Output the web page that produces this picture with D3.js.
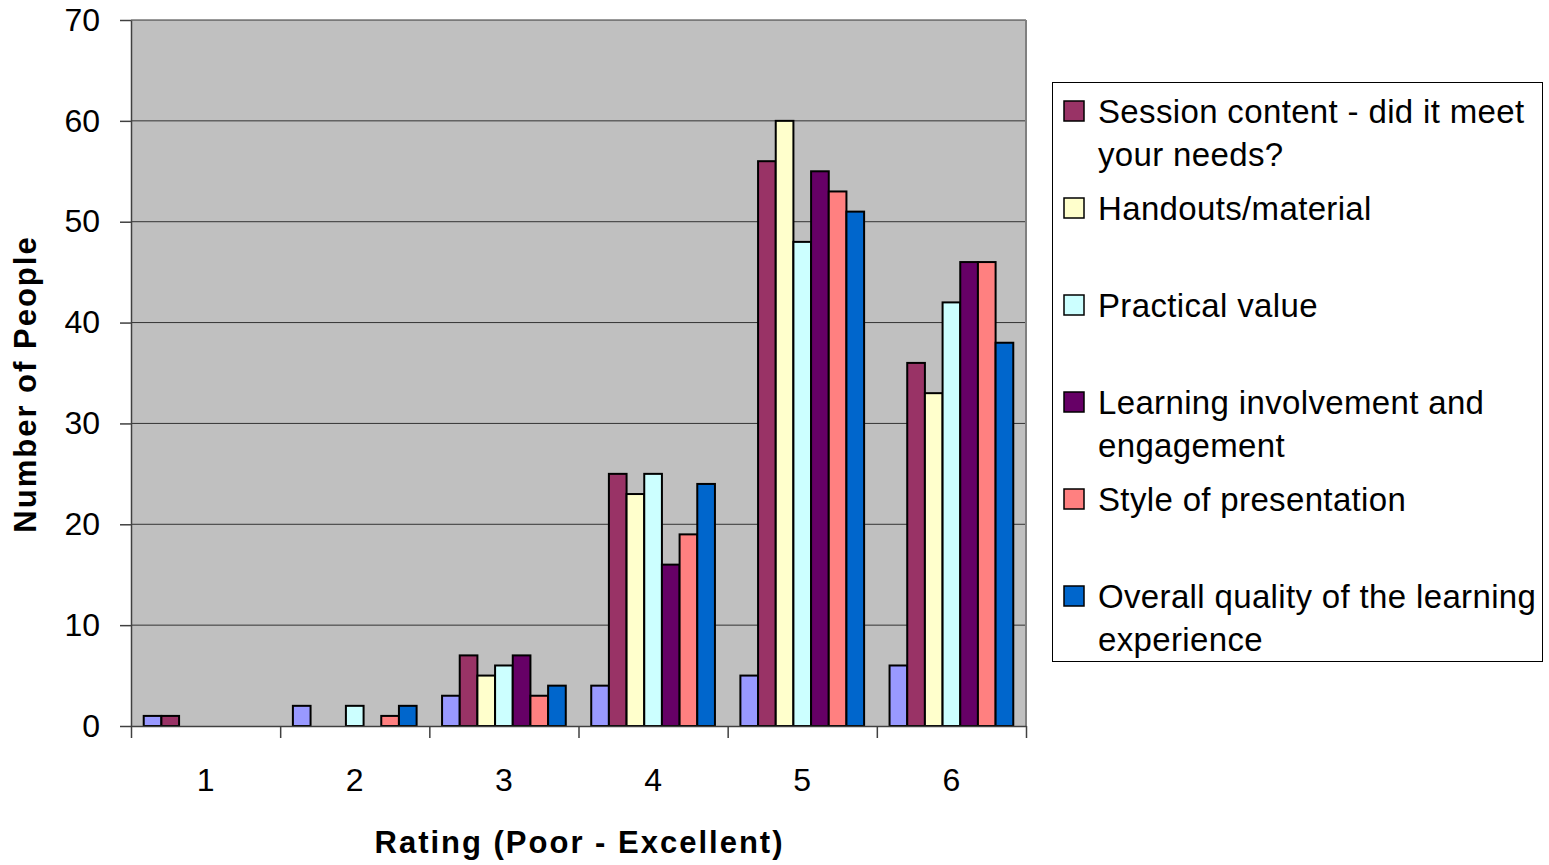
<!DOCTYPE html>
<html>
<head>
<meta charset="utf-8">
<script src="https://cdn.jsdelivr.net/npm/d3@7/dist/d3.min.js"></script>
<style>
  html, body { margin: 0; padding: 0; background: #fff; }
  svg { display: block; font-family: "Liberation Sans", Arial, sans-serif; }
</style>
</head>
<body>
<svg id="chart" width="1549" height="865"></svg>
<script>
// Ratings on the x axis
const categories = ["1", "2", "3", "4", "5", "6"];

// Series (first one is the rating itself, plotted but not listed in the legend)
const seriesNames = [
  "Rating",
  "Session content - did it meet your needs?",
  "Handouts/material",
  "Practical value",
  "Learning involvement and engagement",
  "Style of presentation",
  "Overall quality of the learning experience"
];
const ratingValues      = [1, 2, 3, 4, 5, 6];
const sessionContent    = [1, 0, 7, 25, 56, 36];
const handouts          = [0, 0, 5, 23, 60, 33];
const practicalValue    = [0, 2, 6, 25, 48, 42];
const learningInvolve   = [0, 0, 7, 16, 55, 46];
const stylePresentation = [0, 1, 3, 19, 53, 46];
const overallQuality    = [0, 2, 4, 24, 51, 38];

const seriesColors = ["#9999FF", "#993366", "#FFFFCC", "#CCFFFF", "#660066", "#FF8080", "#0066CC"];
const yTicks = [0, 10, 20, 30, 40, 50, 60, 70];

const seriesValues = [ratingValues, sessionContent, handouts, practicalValue,
                      learningInvolve, stylePresentation, overallQuality];

const svg = d3.select("#chart");
const plot = { left: 131, right: 1026, top: 20, bottom: 726 };

const x0 = d3.scaleBand().domain(categories).range([plot.left, plot.right]).padding(0);
const x1 = d3.scaleBand().domain(d3.range(seriesNames.length))
  .range([0, x0.bandwidth()]).paddingInner(0).paddingOuter(0.72);
const y = d3.scaleLinear().domain([0, 70]).range([plot.bottom, plot.top]);

// plot area background
svg.append("rect")
  .attr("x", plot.left).attr("y", plot.top)
  .attr("width", plot.right - plot.left).attr("height", plot.bottom - plot.top)
  .attr("fill", "#C0C0C0");

// horizontal gridlines
svg.append("g").selectAll("line").data(yTicks.filter(d => d > 0)).join("line")
  .attr("x1", plot.left).attr("x2", plot.right)
  .attr("y1", d => y(d)).attr("y2", d => y(d))
  .attr("stroke", "#333").attr("stroke-width", 1);

// right edge of plot area
svg.append("line")
  .attr("x1", plot.right).attr("x2", plot.right)
  .attr("y1", plot.top).attr("y2", plot.bottom)
  .attr("stroke", "#808080").attr("stroke-width", 2);

// bars
const groups = svg.append("g").selectAll("g").data(categories).join("g")
  .attr("transform", c => `translate(${x0(c)},0)`);
groups.selectAll("rect")
  .data((c, ci) => seriesValues.map((vals, si) => ({ si, v: vals[ci] })))
  .join("rect")
  .filter(d => d.v > 0)
  .attr("x", d => x1(d.si))
  .attr("y", d => y(d.v))
  .attr("width", x1.bandwidth())
  .attr("height", d => y(0) - y(d.v))
  .attr("fill", d => seriesColors[d.si])
  .attr("stroke", "#000").attr("stroke-width", 2);

// y axis
const yAxis = svg.append("g")
  .attr("transform", `translate(${plot.left},0)`)
  .call(d3.axisLeft(y).tickValues(yTicks).tickSize(11).tickPadding(20).tickSizeOuter(0));
yAxis.select(".domain").attr("stroke", "#404040").attr("stroke-width", 1.5);
yAxis.selectAll(".tick line").attr("stroke", "#404040").attr("stroke-width", 1.5);
yAxis.selectAll("text").attr("font-size", 32).attr("fill", "#000")
  .attr("font-family", "Liberation Sans, Arial, sans-serif");

// x axis: tick marks at category boundaries, labels centred in each band
const xEdges = d3.scaleLinear().domain([0, categories.length]).range([plot.left, plot.right]);
const xTickAxis = svg.append("g")
  .attr("transform", `translate(0,${plot.bottom})`)
  .call(d3.axisBottom(xEdges).tickValues(d3.range(categories.length + 1)).tickSize(12).tickFormat("").tickSizeOuter(0));
xTickAxis.select(".domain").attr("stroke", "#404040").attr("stroke-width", 1.5);
xTickAxis.selectAll(".tick line").attr("stroke", "#404040").attr("stroke-width", 1.5);

const xLabelAxis = svg.append("g")
  .attr("transform", `translate(0,${plot.bottom})`)
  .call(d3.axisBottom(x0).tickSize(0).tickPadding(42));
xLabelAxis.select(".domain").remove();
xLabelAxis.selectAll("text").attr("font-size", 32).attr("fill", "#000")
  .attr("font-family", "Liberation Sans, Arial, sans-serif");

// axis titles
svg.append("text")
  .attr("x", (plot.left + plot.right) / 2 + 1).attr("y", 853)
  .attr("text-anchor", "middle").attr("font-weight", "bold").attr("font-size", 31)
  .attr("letter-spacing", 2)
  .text("Rating (Poor - Excellent)");
svg.append("text")
  .attr("transform", "translate(36,384) rotate(-90)")
  .attr("text-anchor", "middle").attr("font-weight", "bold").attr("font-size", 31)
  .attr("letter-spacing", 2)
  .text("Number of People");

// legend
const legend = svg.append("g");
legend.append("rect")
  .attr("x", 1052.5).attr("y", 82.5).attr("width", 490).attr("height", 579)
  .attr("fill", "#fff").attr("stroke", "#000").attr("stroke-width", 1);

const legendItems = d3.range(1, seriesNames.length);
const entryTop = 111, entryStep = 97, lineStep = 43;
legendItems.forEach((si, i) => {
  const cy = entryTop + i * entryStep;
  legend.append("rect")
    .attr("x", 1064).attr("y", cy - 10).attr("width", 20).attr("height", 20)
    .attr("fill", seriesColors[si]).attr("stroke", "#000").attr("stroke-width", 1.5);
  const t = legend.append("text")
    .attr("x", 1098).attr("y", cy + 11.5)
    .attr("font-size", 33).attr("letter-spacing", 0.35).attr("fill", "#000");
  // wrap words into lines no wider than the legend box allows
  const words = seriesNames[si].split(" ");
  let line = [];
  let tspan = t.append("tspan").attr("x", 1098).attr("dy", 0);
  words.forEach(w => {
    line.push(w);
    tspan.text(line.join(" "));
    if (tspan.node().getComputedTextLength() > 475 && line.length > 1) {
      line.pop();
      tspan.text(line.join(" "));
      line = [w];
      tspan = t.append("tspan").attr("x", 1098).attr("dy", lineStep).text(w);
    }
  });
});
</script>
</body>
</html>
